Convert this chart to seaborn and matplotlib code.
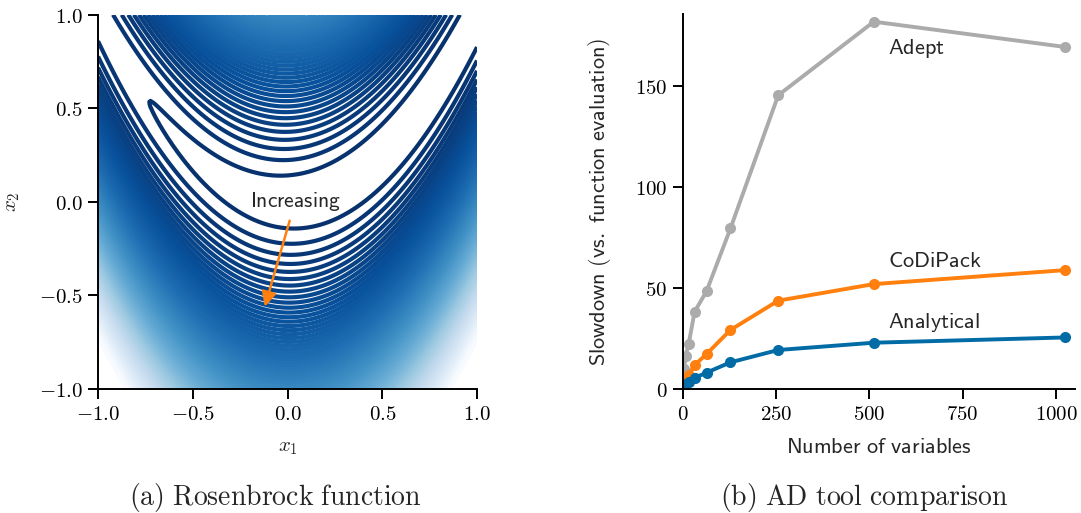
import numpy as np
import pandas as pd
import matplotlib
matplotlib.use("Agg")
import matplotlib.pyplot as plt
import seaborn as sns

# ---------------- data ----------------
# Rosenbrock panel
x1_range = [-1.0, 1.0]
x2_range = [-1.0, 1.0]
level_min, level_max, n_levels = 0.0, 300.0, 101
left_ticks = [-1.0, -0.5, 0.0, 0.5, 1.0]
left_ticklabels = [r"$-1.0$", r"$-0.5$", r"$0.0$", r"$0.5$", r"$1.0$"]

# AD tool comparison panel
n_vars = [1, 2, 4, 8, 16, 32, 64, 128, 256, 512, 1024]
adept = [2.0, 5.0, 10.0, 16.3, 22.2, 38.2, 48.4, 79.4, 145.3, 181.7, 169.2]
codipack = [1.0, 2.0, 3.5, 5.5, 7.0, 11.8, 17.3, 29.2, 43.7, 51.9, 58.8]
analytical = [0.5, 1.0, 1.5, 2.5, 3.6, 5.5, 8.1, 13.2, 19.3, 22.9, 25.5]
series_names = ["Analytical", "CoDiPack", "Adept"]
right_xticks = [0, 250, 500, 750, 1000]
right_yticks = [0, 50, 100, 150]

# ---------------- style ----------------
sns.set_theme(style="ticks")
plt.rcParams["mathtext.fontset"] = "cm"
plt.rcParams["font.family"] = ["DejaVu Sans"]
plt.rcParams["axes.linewidth"] = 1.4
plt.rcParams["xtick.major.width"] = 1.4
plt.rcParams["ytick.major.width"] = 1.4
plt.rcParams["xtick.major.size"] = 7.5
plt.rcParams["ytick.major.size"] = 7.5
plt.rcParams["axes.edgecolor"] = "black"
plt.rcParams["xtick.color"] = "black"
plt.rcParams["ytick.color"] = "black"

def sf(s):
    return r"$\mathsf{" + s.replace(" ", r"\ ") + "}$"

fig = plt.figure(figsize=(10.81, 5.13), dpi=100)
axL = fig.add_axes([0.0907, 0.2417, 0.3506, 0.7296])
axR = fig.add_axes([0.6315, 0.2417, 0.3630, 0.7310])

# ---------------- left: Rosenbrock contours ----------------
gx = np.linspace(x1_range[0], x1_range[1], 160)
gy = np.linspace(x2_range[0], x2_range[1], 160)
X, Y = np.meshgrid(gx, gy)
Z = (1 - X) ** 2 + 100 * (Y - X ** 2) ** 2
levels = np.linspace(level_min, level_max, n_levels)
axL.contour(X, Y, Z, levels=levels, cmap="Blues_r", linewidths=3.0,
            vmin=level_min, vmax=level_max)
axL.set_xlim(x1_range)
axL.set_ylim(x2_range)
axL.set_xticks(left_ticks)
axL.set_xticklabels(left_ticklabels, fontsize=15)
axL.set_yticks(left_ticks)
axL.set_yticklabels(left_ticklabels, fontsize=15)
axL.set_xlabel(r"$x_1$", fontsize=15, labelpad=9)
axL.set_ylabel(r"$x_2$", fontsize=15, labelpad=12)
axL.annotate(sf("Increasing"), xy=(-0.12, -0.56), xytext=(0.04, 0.0),
             ha="center", va="center", fontsize=15.5,
             arrowprops=dict(arrowstyle="-|>", color="#FF800E", lw=1.8,
                             mutation_scale=22, shrinkA=3, shrinkB=0))
sns.despine(ax=axL)

# ---------------- right: AD tool comparison ----------------
df = pd.DataFrame({
    "n": n_vars * 3,
    "slowdown": analytical + codipack + adept,
    "tool": sum([[s] * len(n_vars) for s in series_names], []),
})
palette = {"Analytical": "#006BA4", "CoDiPack": "#FF800E", "Adept": "#ABABAB"}
sns.lineplot(data=df, x="n", y="slowdown", hue="tool", palette=palette,
             hue_order=["Adept", "CoDiPack", "Analytical"],
             marker="o", markersize=8, markeredgewidth=0, linewidth=2.8,
             legend=False, ax=axR)
axR.set_xlim(0, 1051)
axR.set_ylim(0, 185.5)
axR.set_xticks(right_xticks)
axR.set_xticklabels([sf(str(t)) for t in right_xticks], fontsize=15)
axR.set_yticks(right_yticks)
axR.set_yticklabels([sf(str(t)) for t in right_yticks], fontsize=15)
axR.set_xlabel(sf("Number of variables"), fontsize=16, labelpad=9)
axR.set_ylabel(sf("Slowdown (vs. function evaluation)"), fontsize=16, labelpad=16)
axR.text(551, 168.4, sf("Adept"), ha="left", va="center", fontsize=16)
axR.text(551, 63.4, sf("CoDiPack"), ha="left", va="center", fontsize=16)
axR.text(551, 33.0, sf("Analytical"), ha="left", va="center", fontsize=16)
sns.despine(ax=axR)

# ---------------- captions ----------------
fig.text(275 / 1081, 0.031, r"$\mathrm{(a)\ Rosenbrock\ function}$",
         ha="center", va="center", fontsize=20)
fig.text(864 / 1081, 0.031, r"$\mathrm{(b)\ AD\ tool\ comparison}$",
         ha="center", va="center", fontsize=20)

fig.savefig("out.png", dpi=100)
